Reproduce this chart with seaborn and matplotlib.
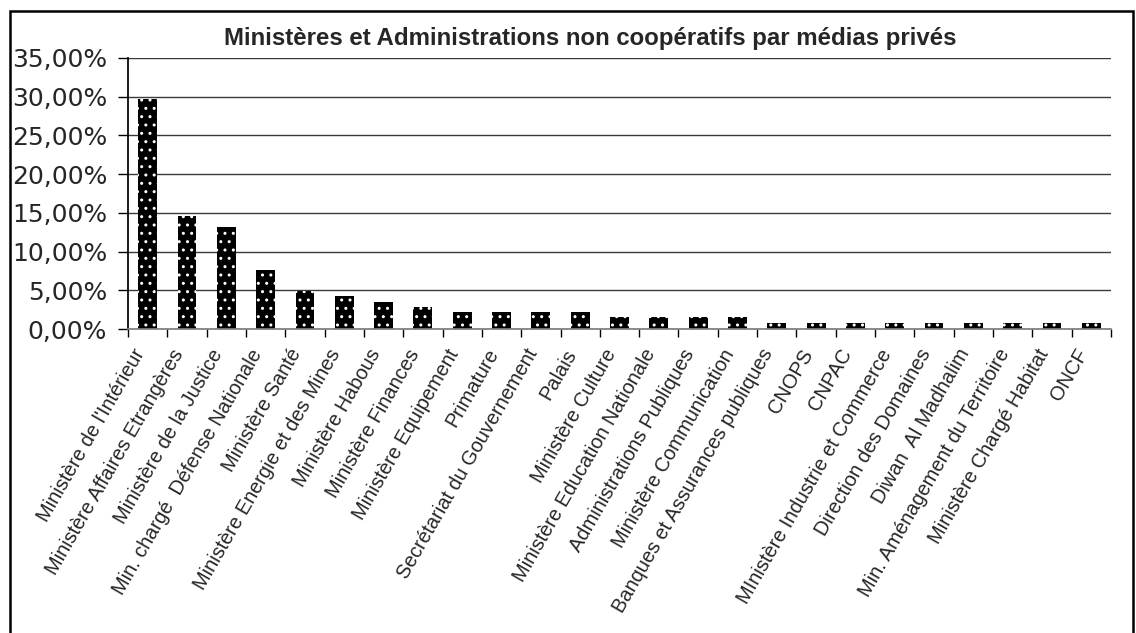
import pandas as pd
import matplotlib
matplotlib.use("Agg")
import matplotlib.pyplot as plt
import seaborn as sns
from matplotlib.ticker import FuncFormatter, FixedLocator
from matplotlib.patches import Rectangle
from matplotlib.transforms import ScaledTranslation

categories = ["Ministère de l'Intérieur", "Ministère Affaires Etrangères", "Ministère de la Justice",
              "Min. chargé  Défense Nationale", "Ministère Santé", "Ministère Energie et des Mines",
              "Ministère Habous", "Ministère Finances", "Ministère Equipement", "Primature",
              "Secrétariat du Gouvernement", "Palais", "Ministère Culture", "Ministère Education Nationale",
              "Administrations Publiques", "Ministère Communication", "Banques et Assurances publiques",
              "CNOPS", "CNPAC", "MInistère Industrie et Commerce", "Direction des Domaines",
              "Diwan  Al Madhalim", "Min. Aménagement du Territoire", "Ministère Chargé Habitat", "ONCF"]
percent = [29.7, 14.6, 13.2, 7.6, 4.9, 4.2, 3.5, 2.8, 2.2, 2.2, 2.2, 2.2,
           1.5, 1.5, 1.5, 1.5, 0.8, 0.8, 0.8, 0.8, 0.8, 0.8, 0.8, 0.8, 0.8]
title = "Ministères et Administrations non coopératifs par médias privés"

data = pd.DataFrame({"Organisme": categories, "Part": percent})

sns.set_theme(style="white")
plt.rcParams["font.family"] = ["Liberation Sans", "DejaVu Sans"]

fig = plt.figure(figsize=(11.36, 6.33), dpi=100)
ax = fig.add_axes([128 / 1136, 1 - 329 / 633, (1111 - 128) / 1136, (329 - 58) / 633])

sns.barplot(data=data, x="Organisme", y="Part", color="black", width=0.48,
            hatch="..", edgecolor="white", linewidth=0, ax=ax)

ax.set_ylim(0, 35)
ax.set_xlim(-0.5, len(categories) - 0.5)
ax.set_yticks(range(0, 36, 5))
ax.yaxis.set_major_formatter(FuncFormatter(lambda v, p: f"{v:.2f}".replace(".", ",") + "%"))
for lab in ax.get_yticklabels():
    lab.set_family("DejaVu Sans")
ax.tick_params(axis="y", labelsize=18, length=7, width=1, color="black", pad=8, left=True, direction="out")
ax.grid(axis="y", color="#3a3a3a", linewidth=1)
ax.set_axisbelow(True)

# category labels at centres, tick marks at boundaries
ax.set_xticks(range(len(categories)))
ax.set_xticklabels(categories, rotation=60, ha="right", rotation_mode="anchor", fontsize=14.4)
ax.tick_params(axis="x", which="major", length=0, pad=12)
shift = ScaledTranslation(-16 / 100, 0, fig.dpi_scale_trans)
for lab in ax.get_xticklabels():
    lab.set_transform(lab.get_transform() + shift)
ax.xaxis.set_minor_locator(FixedLocator([i - 0.5 for i in range(len(categories) + 1)]))
ax.tick_params(axis="x", which="minor", length=6, width=1, color="black", direction="out", bottom=True)

ax.set_xlabel("")
ax.set_ylabel("")
ax.spines["top"].set_visible(False)
ax.spines["right"].set_visible(False)
ax.spines["left"].set_color("black")
ax.spines["bottom"].set_color("#808080")

fig.text(590 / 1136, 1 - 38 / 633, title, ha="center", va="center", fontsize=17.3, fontweight="bold")

fig.patches.append(Rectangle((10 / 1136, -0.05), (1133 - 10) / 1136, 1.05 - 11 / 633,
                             transform=fig.transFigure, fill=False, edgecolor="black", linewidth=1.8))

fig.savefig("out.png", dpi=100)
